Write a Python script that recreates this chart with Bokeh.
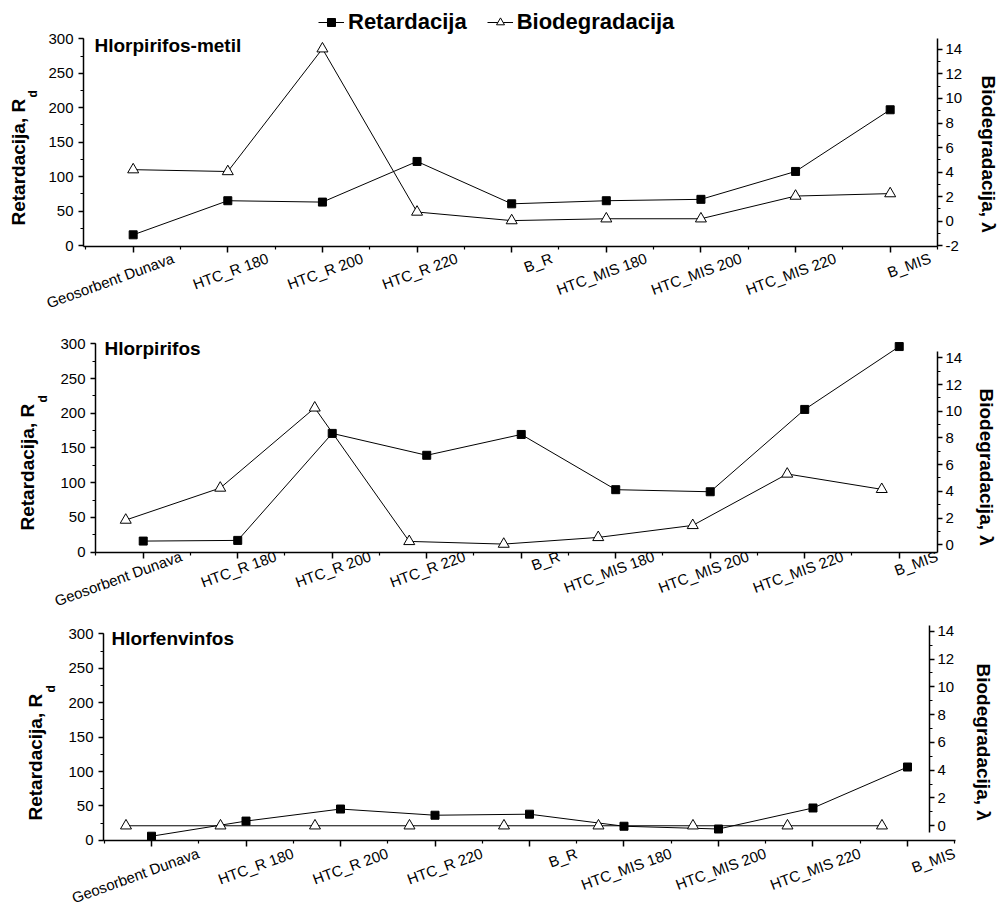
import math
from bokeh.plotting import figure
from bokeh.models import (Range1d, LinearAxis, FixedTicker, SingleIntervalTicker, Label,
                          Title, Legend, LegendItem, Spacer)
from bokeh.layouts import column, row
from bokeh.embed import file_html
from bokeh.resources import INLINE

# ---------------- data ----------------
categories = ["Geosorbent Dunava", "HTC_R 180", "HTC_R 200", "HTC_R 220", "B_R",
              "HTC_MIS 180", "HTC_MIS 200", "HTC_MIS 220", "B_MIS"]

titles = ["Hlorpirifos-metil", "Hlorpirifos", "Hlorfenvinfos"]

# Retardacija, Rd (left axis)
ret_hlorpirifos_metil = [15.5, 65, 63, 122, 60.5, 65, 67, 107.5, 197]
ret_hlorpirifos = [16, 17, 171, 139.5, 169.5, 90, 87, 205.5, 296]
ret_hlorfenvinfos = [6, 28, 45.5, 36.5, 38, 20.5, 16.5, 47, 106.5]

# Biodegradacija, lambda (right axis)
bio_hlorpirifos_metil = [4.2, 4.05, 14.05, 0.75, 0.05, 0.2, 0.2, 2.05, 2.25]
bio_hlorpirifos = [1.85, 4.25, 10.25, 0.25, 0.05, 0.55, 1.45, 5.3, 4.15]
bio_hlorfenvinfos = [0, 0, 0, 0, 0, 0, 0, 0, 0]

ret_series = [ret_hlorpirifos_metil, ret_hlorpirifos, ret_hlorfenvinfos]
bio_series = [bio_hlorpirifos_metil, bio_hlorpirifos, bio_hlorfenvinfos]

legend_labels = ["Retardacija", "Biodegradacija"]
left_label = "Retardacija, R"
left_sub = "d"
right_label = "Biodegradacija, \u03bb"

# ---------------- style / layout per panel ----------------
panels = [
    dict(shift=0, fw=854, fh=238, bt=8, bb=78, br=60,
         xr=(-0.525, 8.50), yr=(-1.45, 344.0), ybounds=(-1.45, 300),
         y2r=(-2.06, 17.33), y2b=(-2.06, 14.9), y2loc=None, tri_dx=0.0,
         lab_dx=40, lab_so=5, title_x=11, title_y=201,
         ml_off=21, sd=12, sm=-22, r_off=67, sr=24),
    dict(shift=12, fw=842, fh=219, bt=9, bb=70, br=40,
         xr=(-0.505, 8.405), yr=(-0.43, 314.8), ybounds=(-0.43, 300),
         y2r=(-0.58, 15.82), y2b=(-0.58, 14.5), y2loc=None, tri_dx=-0.185,
         lab_dx=38, lab_so=-3, title_x=9, title_y=204,
         ml_off=22, sd=15, sm=-22, r_off=55, sr=21),
    dict(shift=20, fw=852, fh=218, bt=0, bb=78, br=30,
         xr=(-0.508, 8.508), yr=(-0.2, 316.4), ybounds=(-0.2, 300),
         y2r=(-1.06, 14.63), y2b=(-0.46, 14.4), y2loc=8.233, tri_dx=-0.27,
         lab_dx=47, lab_so=6, title_x=8, title_y=202,
         ml_off=20, sd=15, sm=-22, r_off=41, sr=35),
]

FONT = "Liberation Sans"
BL = 83
LABEL_ANGLE = 0.349
idx = list(range(len(categories)))


def style_axis(ax):
    ax.major_tick_in = 0
    ax.minor_tick_in = 0
    ax.axis_line_width = 1.5
    ax.major_tick_line_width = 1.5
    ax.minor_tick_line_width = 1.2
    ax.axis_line_color = "black"
    ax.major_tick_line_color = "black"
    ax.minor_tick_line_color = "black"
    ax.major_label_text_font = FONT
    ax.major_label_text_font_size = "15px"
    ax.major_label_text_color = "black"


def make_title(text, size, off, standoff, valign="bottom"):
    t = Title(text=text, align="left", offset=off, vertical_align=valign,
              text_font=FONT, text_font_style="bold", text_font_size=size,
              text_color="black")
    try:
        t.standoff = standoff
    except Exception:
        t.standoff = max(standoff, 0)
    return t


rows = []
for k, cfg in enumerate(panels):
    p = figure(frame_width=cfg["fw"], frame_height=cfg["fh"],
               min_border_left=BL, min_border_right=cfg["br"],
               min_border_top=cfg["bt"], min_border_bottom=cfg["bb"],
               x_range=Range1d(*cfg["xr"]), y_range=Range1d(*cfg["yr"]),
               output_backend="svg", toolbar_location=None)
    p.outline_line_color = None
    p.xgrid.grid_line_color = None
    p.ygrid.grid_line_color = None

    span = cfg["xr"][1] - cfg["xr"][0]
    dshift = cfg["lab_dx"] * span / cfg["fw"]
    p.extra_x_ranges = {"lab": Range1d(cfg["xr"][0] - dshift, cfg["xr"][1] - dshift)}
    p.extra_y_ranges = {"bio": Range1d(*cfg["y2r"])}

    # x axis: ticks only
    xa = p.xaxis[0]
    xa.ticker = FixedTicker(ticks=idx, minor_ticks=[i - 0.5 for i in range(len(categories) + 1)])
    style_axis(xa)
    xa.major_label_overrides = {i: "" for i in idx}
    xa.major_label_text_font_size = "1px"
    xa.major_label_standoff = 0
    xa.major_tick_out = 6
    xa.minor_tick_out = 3

    # x axis: rotated category labels (shifted range)
    la = LinearAxis(x_range_name="lab", ticker=FixedTicker(ticks=idx))
    style_axis(la)
    la.axis_line_color = None
    la.major_tick_line_color = None
    la.minor_tick_line_color = None
    la.major_tick_out = 0
    la.minor_tick_out = 0
    la.major_label_overrides = {i: c for i, c in zip(idx, categories)}
    la.major_label_orientation = LABEL_ANGLE
    try:
        la.major_label_standoff = cfg["lab_so"]
    except Exception:
        la.major_label_standoff = 0
    p.add_layout(la, "below")

    # left axis
    ya = p.yaxis[0]
    ya.ticker = SingleIntervalTicker(interval=50, num_minor_ticks=2)
    style_axis(ya)
    ya.bounds = cfg["ybounds"]
    ya.major_tick_out = 5
    ya.minor_tick_out = 3
    ya.major_label_standoff = 5

    # left titles (subscript first, closer to the axis)
    p.add_layout(make_title(left_sub, "12px", cfg["ml_off"] + 128, cfg["sd"]), "left")
    p.add_layout(make_title(left_label, "19px", cfg["ml_off"], cfg["sm"]), "left")

    # right axis
    ra = LinearAxis(y_range_name="bio",
                    ticker=SingleIntervalTicker(interval=2, num_minor_ticks=2),
                    bounds=cfg["y2b"])
    style_axis(ra)
    ra.major_tick_out = 5
    ra.minor_tick_out = 3
    ra.major_label_standoff = 3
    ra.major_label_overrides = {-2: "-2"}
    if cfg["y2loc"] is not None:
        ra.fixed_location = cfg["y2loc"]
    p.add_layout(ra, "right")
    p.add_layout(make_title(right_label, "19px", cfg["r_off"], cfg["sr"]), "right")

    # data
    ret = ret_series[k]
    bio = bio_series[k]
    tx = [i + cfg["tri_dx"] for i in idx]
    l1 = p.line(idx, ret, line_color="black", line_width=1)
    s1 = p.scatter(idx, ret, marker="square", size=8, fill_color="black", line_color="black")
    l2 = p.line(tx, bio, line_color="black", line_width=1, y_range_name="bio")
    t2 = p.scatter(tx, bio, marker="triangle", size=11, fill_color="white",
                   line_color="black", line_width=1, y_range_name="bio")

    # panel title (inside the frame)
    p.add_layout(Label(x=cfg["title_x"], y=cfg["title_y"], x_units="screen", y_units="screen",
                       text=titles[k], text_font=FONT, text_font_style="bold",
                       text_font_size="19px", text_baseline="alphabetic", text_align="left",
                       text_color="black"))

    if k == 0:
        leg = Legend(items=[LegendItem(label=legend_labels[0], renderers=[l1, s1]),
                            LegendItem(label=legend_labels[1], renderers=[l2, t2])],
                     orientation="horizontal", location=(235, 211))
        leg.label_text_font = FONT
        leg.label_text_font_style = "bold"
        leg.label_text_font_size = "22px"
        leg.label_text_color = "black"
        leg.glyph_width = 26
        leg.glyph_height = 20
        leg.label_standoff = 4
        leg.spacing = 20
        leg.padding = 0
        leg.margin = 0
        leg.border_line_color = None
        leg.background_fill_alpha = 0
        p.add_layout(leg)

    if cfg["shift"] > 0:
        rows.append(row(Spacer(width=cfg["shift"], height=10), p, spacing=0))
    else:
        rows.append(p)

layout = column(*rows, spacing=0)
open("out.html", "w").write(file_html(layout, INLINE))
